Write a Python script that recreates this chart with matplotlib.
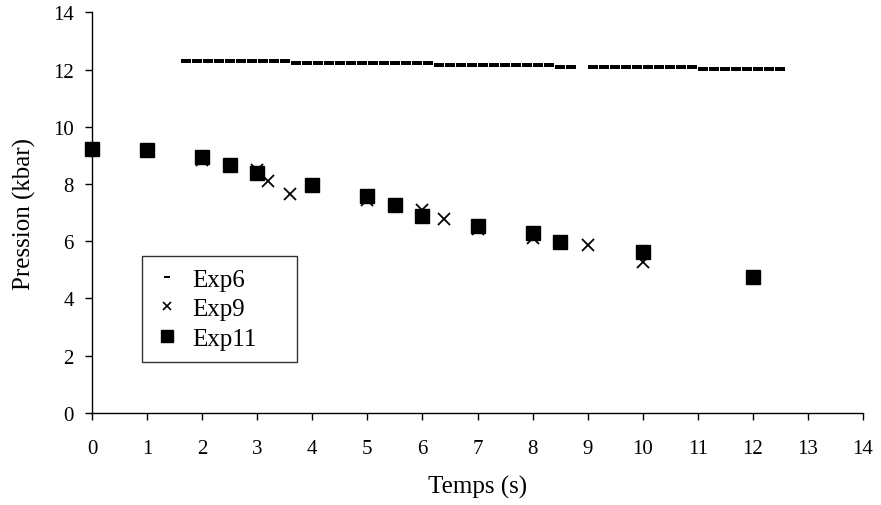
"""
Pression en fonction du temps pour les essais Exp6, Exp9 et Exp11.
"""

import matplotlib
matplotlib.use("Agg")
import matplotlib.pyplot as plt
from matplotlib.lines import Line2D

# =========================================================================
# DATA
# =========================================================================

exp6_t = [1.7, 1.9, 2.1, 2.3, 2.5, 2.7, 2.9, 3.1, 3.3, 3.5,
          3.7, 3.9, 4.1, 4.3, 4.5, 4.7, 4.9, 5.1, 5.3, 5.5, 5.7, 5.9, 6.1,
          6.3, 6.5, 6.7, 6.9, 7.1, 7.3, 7.5, 7.7, 7.9, 8.1, 8.3,
          8.5, 8.7,
          9.1, 9.3, 9.5, 9.7, 9.9, 10.1, 10.3, 10.5, 10.7, 10.9,
          11.1, 11.3, 11.5, 11.7, 11.9, 12.1, 12.3, 12.5]
exp6_p = [12.28] * 10 + [12.22] * 13 + [12.16] * 11 + [12.10] * 2 \
    + [12.10] * 10 + [12.03] * 8

exp9_t = [0, 2, 3, 3.2, 3.6, 5, 6, 6.4, 7, 8, 9, 10]
exp9_p = [9.2, 8.85, 8.5, 8.1, 7.65, 7.42, 7.08, 6.76, 6.42, 6.12, 5.85, 5.28]

exp11_t = [0, 1, 2, 2.5, 3, 4, 5, 5.5, 6, 7, 8, 8.5, 10, 12]
exp11_p = [9.22, 9.2, 8.93, 8.66, 8.38, 7.97, 7.59, 7.26, 6.87, 6.54,
           6.28, 5.98, 5.63, 4.76]

labels = ["Exp6", "Exp9", "Exp11"]

# =========================================================================
# PLOT
# =========================================================================

plt.rcParams["font.family"] = ["Liberation Serif", "DejaVu Serif"]

DASH = [(-1, -0.5), (1, -0.5), (1, 0.5), (-1, 0.5), (-1, -0.5)]
HYPHEN = [(-1, -0.3), (1, -0.3), (1, 0.3), (-1, 0.3), (-1, -0.3)]

fig = plt.figure(figsize=(8.81, 5.06), dpi=100)
ax = fig.add_axes([0.1044, 0.1824, 0.8752, 0.7913])

ax.plot(exp6_t, exp6_p, linestyle="none", marker=DASH, markersize=6.6,
        markeredgewidth=0, color="black", clip_on=False)
ax.plot(exp9_t, exp9_p, linestyle="none", marker="x", markersize=9,
        markeredgewidth=1.3, color="black", clip_on=False)
ax.plot(exp11_t, exp11_p, linestyle="none", marker="s", markersize=9.5,
        color="black", clip_on=False)

ax.set_xlim(0, 14)
ax.set_ylim(0, 14)
ax.set_xticks(range(0, 15))
ax.set_yticks(range(0, 15, 2))
ax.tick_params(direction="out", length=5, width=1, labelsize=15,
               colors="black")
ax.tick_params(axis="x", pad=14)
ax.tick_params(axis="y", pad=8)
ax.spines["top"].set_visible(False)
ax.spines["right"].set_visible(False)
for s in ("left", "bottom"):
    ax.spines[s].set_linewidth(1)
    ax.spines[s].set_color("black")

ax.set_xlabel("Temps (s)", fontsize=18, labelpad=12)
ax.set_ylabel("Pression (kbar)", fontsize=18, labelpad=12)

handles = [
    Line2D([], [], linestyle="none", marker=HYPHEN, markersize=4.5,
           markeredgewidth=0, color="black"),
    Line2D([], [], linestyle="none", marker="x", markersize=6,
           markeredgewidth=1.2, color="black"),
    Line2D([], [], linestyle="none", marker="s", markersize=8, color="black"),
]
leg = ax.legend(handles, labels, loc="lower left",
                bbox_to_anchor=(0.0649, 0.1266, 0.2009, 0.27), mode="expand",
                borderaxespad=0, fontsize=18, frameon=True, fancybox=False,
                edgecolor="black", handlelength=0.96, handletextpad=0.56,
                labelspacing=0.28, borderpad=0.5)
leg.get_frame().set_linewidth(1)

fig.savefig("out.png", dpi=100)
